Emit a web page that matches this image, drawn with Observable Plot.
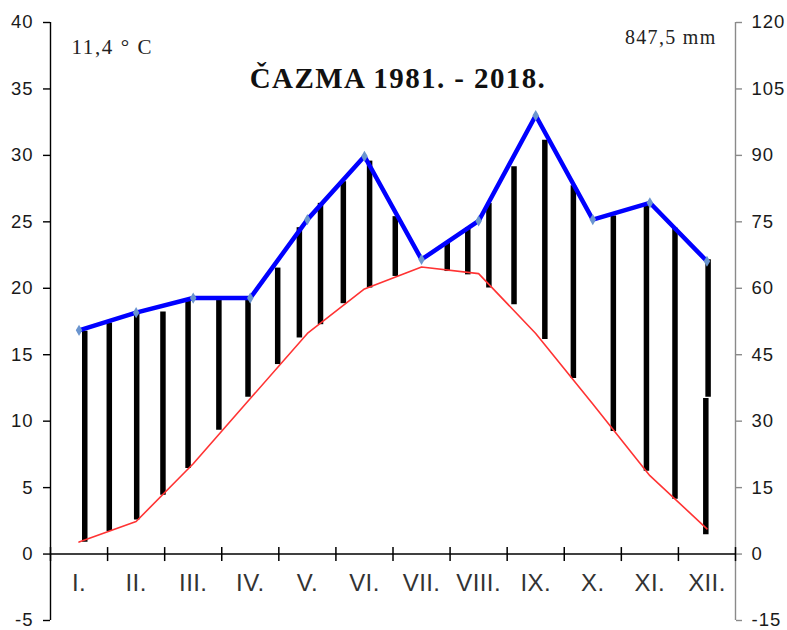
<!DOCTYPE html>
<html>
<head>
<meta charset="utf-8">
<script src="https://cdn.jsdelivr.net/npm/d3@7"></script>
<script src="https://cdn.jsdelivr.net/npm/@observablehq/plot@0.6"></script>
<style>
  body { margin: 0; background: #fff; }
  #chart svg { display: block; }
</style>
</head>
<body>
<div id="chart"></div>
<script>
// ---- Data ----
const months = ["I.", "II.", "III.", "IV.", "V.", "VI.", "VII.", "VIII.", "IX.", "X.", "XI.", "XII."];
// mean monthly temperature (°C, left axis)
const temperature = [0.9, 2.45, 6.8, 11.7, 16.6, 19.95, 21.6, 21.1, 16.6, 11.3, 5.9, 1.9];
// mean monthly precipitation (mm, right axis)
const precipitation = [50.5, 54.5, 57.8, 57.8, 75.5, 89.8, 66.5, 75.2, 99.0, 75.5, 79.3, 66.1];

// humid-period hatching strokes: position (month units), top and bottom (°C units)
const hatchX      = [1.10, 1.53, 2.01, 2.47, 2.91, 3.45, 3.96, 4.48, 4.86, 5.23, 5.63, 6.09, 6.54, 7.45, 7.81, 8.18, 8.62, 9.16, 9.66, 10.36, 10.94, 11.44, 12.02, 11.98];
const hatchTop    = [16.76, 17.39, 18.21, 18.21, 19.21, 19.08, 19.14, 21.52, 24.56, 26.39, 28.02, 29.57, 25.39, 23.39, 24.54, 26.39, 29.14, 31.14, 27.72, 25.44, 26.27, 24.52, 22.14, 11.71];
const hatchBottom = [0.88, 1.70, 2.57, 4.43, 6.43, 9.31, 11.80, 14.26, 16.26, 17.26, 18.84, 20.02, 20.89, 21.26, 21.01, 20.02, 18.76, 16.14, 13.21, 9.23, 6.23, 4.13, 11.80, 1.46];

const leftTicks = [-5, 0, 5, 10, 15, 20, 25, 30, 35, 40];
const rightTicks = [-15, 0, 15, 30, 45, 60, 75, 90, 105, 120];
const precipRatio = 3; // mm per °C (120 mm ↔ 40 °C)

const title = "ČAZMA 1981. - 2018.";
const meanTempLabel = "11,4 ° C";
const totalPrecipLabel = "847,5 mm";

// ---- Derived tables ----
const hatch = hatchX.map((x, i) => ({x, top: hatchTop[i], bottom: hatchBottom[i]}));
const monthBounds = d3.range(0, months.length + 1).map(i => i + 0.5);

const vline = {
  draw(ctx) { ctx.moveTo(0, -7); ctx.lineTo(0, 7); }
};

const plot = Plot.plot({
  width: 787,
  height: 630,
  marginLeft: 50,
  marginRight: 52,
  marginTop: 22,
  marginBottom: 10,
  x: {domain: [0.5, 12.5], axis: null},
  y: {domain: [-5, 40], axis: null},
  style: {fontFamily: "'Liberation Sans', Arial, sans-serif", background: "white", overflow: "visible"},
  marks: [
    // axis lines
    Plot.ruleX([0.5], {stroke: "black", strokeWidth: 1.4}),
    Plot.ruleX([12.5], {stroke: "#8a8a8a", strokeWidth: 1.4}),
    Plot.axisY({anchor: "left", ticks: leftTicks, tickFormat: d => String(d), tickSize: 7, tickPadding: 10,
                fontSize: 18.5, label: null, stroke: "black", strokeWidth: 1.4, fill: "#1a1a1a"}),
    Plot.axisY({anchor: "right", ticks: rightTicks.map(v => v / precipRatio),
                tickFormat: d => String(Math.round(d * precipRatio)), tickSize: 6, tickPadding: 10,
                fontSize: 18.5, label: null, stroke: "#8a8a8a", strokeWidth: 1.4, fill: "#1a1a1a"}),
    Plot.ruleY([0], {stroke: "black", strokeWidth: 1.5}),
    Plot.dot(monthBounds, {x: d => d, y: 0, symbol: vline, stroke: "black", strokeWidth: 1.5, fill: "none"}),
    Plot.text(months, {x: (d, i) => i + 1, y: 0, text: d => d, dy: 37, lineAnchor: "bottom",
                       fontSize: 24, fill: "#333"}),
    // hatching
    Plot.ruleX(hatch, {x: "x", y1: "bottom", y2: "top", stroke: "black", strokeWidth: 5.5}),
    // temperature
    Plot.line(temperature, {x: (d, i) => i + 1, y: d => d, stroke: "#ff3333", strokeWidth: 1.6}),
    // precipitation
    Plot.line(precipitation, {x: (d, i) => i + 1, y: d => d / precipRatio, stroke: "#0000ff",
                              strokeWidth: 4.5, strokeLinejoin: "round", strokeLinecap: "round"}),
    Plot.dot(precipitation, {x: (d, i) => i + 1, y: d => d / precipRatio, symbol: "diamond",
                             r: 3.4, fill: "#6a95cf", stroke: "none"}),
    // annotations
    Plot.text([title], {frameAnchor: "top", text: d => d, dx: 5, dy: 65, lineAnchor: "bottom",
                        fontSize: 29, fontWeight: "bold", fontFamily: "'Liberation Serif', 'Times New Roman', serif", fill: "#111"}),
    Plot.text([meanTempLabel], {frameAnchor: "top-left", text: d => d, dx: 21, dy: 31, lineAnchor: "bottom",
                        textAnchor: "start", fontSize: 21, fontFamily: "'Liberation Serif', 'Times New Roman', serif", fill: "#222"}),
    Plot.text([totalPrecipLabel], {frameAnchor: "top-right", text: d => d, dx: -19, dy: 21, lineAnchor: "bottom",
                        textAnchor: "end", fontSize: 20, fontFamily: "'Liberation Serif', 'Times New Roman', serif", fill: "#222"})
  ]
});

// slight horizontal widening of text as in the reference
plot.querySelectorAll("text").forEach(t => {
  const s = t.textContent;
  let ls = 1;
  if (s === title) ls = 1.4;
  else if (s === meanTempLabel) ls = 1.6;
  else if (s === totalPrecipLabel) ls = 1.3;
  else if (months.includes(s)) ls = 0.4;
  t.setAttribute("letter-spacing", ls + "px");
});

document.getElementById("chart").appendChild(plot);
</script>
</body>
</html>
